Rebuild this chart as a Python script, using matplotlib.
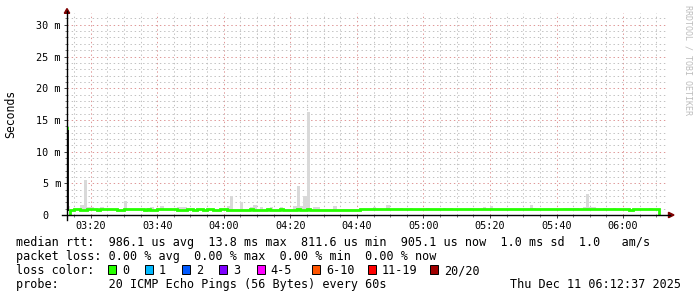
import numpy as np
import matplotlib
matplotlib.use("Agg")
import matplotlib.pyplot as plt
from matplotlib.lines import Line2D
from matplotlib.patches import Polygon, Rectangle

# smoke top per minute (ms), one value per 60 s step, starting 03:12:53
smoke_top = [
    1.42, 0.95, 0.95, 0.95, 1.6, 5.5, 1.2, 1.2, 0.95, 0.95, 1.2, 0.95, 0.95, 0.95, 0.95, 0.95, 0.95, 2.2, 0.95, 0.95,
    0.95, 0.95, 0.95, 0.95, 1.1, 1.2, 0.95, 0.95, 1.4, 0.95, 0.95, 0.95, 0.95, 1.2, 1.2, 1.2, 0.95, 0.95, 0.95, 0.95,
    0.95, 0.95, 0.95, 0.95, 0.95, 0.95, 0.95, 0.95, 1.42, 3.0, 0.95, 0.95, 2.05, 0.95, 0.95, 1.2, 1.6, 0.95, 1.2, 0.95,
    0.95, 1.2, 0.95, 0.95, 1.2, 0.95, 0.95, 0.95, 1.4, 4.6, 1.4, 3.0, 16.2, 0.95, 1.2, 1.2, 0.95, 0.95, 0.95, 0.95,
    1.4, 0.95, 0.95, 0.95, 0.95, 0.95, 0.95, 0.95, 0.95, 0.95, 0.95, 0.95, 1.2, 0.95, 0.95, 0.95, 1.58, 0.95, 0.95, 0.95,
    1.1, 0.95, 0.95, 1.1, 0.95, 0.95, 0.95, 0.95, 1.1, 0.95, 0.95, 0.95, 0.95, 1.1, 0.95, 1.1, 0.95, 0.95, 0.95, 0.95,
    0.95, 1.1, 0.95, 0.95, 0.95, 1.25, 0.95, 1.4, 0.95, 0.95, 0.95, 0.95, 0.95, 0.95, 0.95, 0.95, 0.95, 0.95, 0.95, 1.58,
    1.1, 0.95, 0.95, 0.95, 0.95, 0.95, 0.95, 0.95, 0.95, 1.1, 1.1, 1.1, 1.1, 1.1, 0.95, 1.2, 3.3, 1.2, 1.2, 0.95,
    0.95, 1.1, 0.95, 0.95, 1.1, 0.95, 0.95, 0.95, 0.95, 0.95, 0.95, 0.95, 0.95, 0.95, 0.95, 1.1, 0.95, 0.95,
]
smoke_bottom = 0.75

# median rtt per minute (ms)
median = [
    13.8, 0.86, 0.92, 0.92, 0.86, 0.86, 0.92, 0.92, 0.92, 0.84, 0.90, 0.90, 0.90, 0.90, 0.90, 0.86, 0.86, 0.90, 0.90, 0.90,
    0.90, 0.90, 0.90, 0.86, 0.92, 0.86, 0.86, 0.90, 0.90, 0.90, 0.90, 0.90, 0.90, 0.86, 0.86, 0.86, 0.90, 0.90, 0.86, 0.90,
    0.90, 0.86, 0.90, 0.90, 0.86, 0.86, 0.90, 0.90, 0.86, 0.86, 0.86, 0.86, 0.86, 0.86, 0.86, 0.92, 0.86, 0.86, 0.86, 0.86,
    0.92, 0.86, 0.86, 0.86, 0.92, 0.86, 0.86, 0.86, 0.86, 0.92, 0.86, 0.86, 0.92, 0.86, 0.86, 0.86, 0.86, 0.86, 0.86, 0.86,
    0.86, 0.86, 0.86, 0.86, 0.86, 0.86, 0.86, 0.86, 0.95, 0.95, 0.90, 0.90, 0.90, 0.90, 0.90, 0.95, 0.95, 0.95, 0.95, 0.95,
    0.90, 0.88, 0.88, 0.88, 0.88, 0.88, 0.88, 0.88, 0.88, 0.88, 0.88, 0.88, 0.88, 0.88, 0.88, 0.88, 0.88, 0.88, 0.88, 0.88,
    0.88, 0.88, 0.88, 0.88, 0.88, 0.95, 0.88, 0.88, 0.88, 0.88, 0.88, 0.88, 0.88, 0.88, 0.88, 0.88, 0.88, 0.88, 0.88, 0.88,
    0.88, 0.88, 0.88, 0.88, 0.88, 0.88, 0.88, 0.88, 0.88, 0.88, 0.88, 0.88, 0.88, 0.88, 0.88, 0.88, 0.88, 0.88, 0.88, 0.88,
    0.88, 0.95, 0.88, 0.88, 0.88, 0.88, 0.88, 0.88, 0.88, 0.82, 0.88, 0.88, 0.88, 0.88, 0.88, 0.88, 0.88, 0.88,
]

t_start = 12.89          # minutes after 03:00
t_end = 193.2
x_ticks = [20, 40, 60, 80, 100, 120, 140, 160, 180]
x_labels = ["03:20", "03:40", "04:00", "04:20", "04:40", "05:00", "05:20", "05:40", "06:00"]
y_ticks = [0, 5, 10, 15, 20, 25, 30]
y_labels = ["0  ", "5 m", "10 m", "15 m", "20 m", "25 m", "30 m"]

loss_labels = ["0", "1", "2", "3", "4-5", "6-10", "11-19", "20/20"]
loss_colors = ["#26ff00", "#00b8ff", "#0059ff", "#7e00ff", "#ff00ff", "#ff5500", "#ff0000", "#a00000"]

legend_rtt = "median rtt:  986.1 us avg  13.8 ms max  811.6 us min  905.1 us now  1.0 ms sd  1.0   am/s"
legend_loss = "packet loss: 0.00 % avg  0.00 % max  0.00 % min  0.00 % now"
legend_probe = "probe:       20 ICMP Echo Pings (56 Bytes) every 60s"
stamp = "Thu Dec 11 06:12:37 2025"

W, H = 697, 297
MONO = "DejaVu Sans Mono"

fig = plt.figure(figsize=(W / 100, H / 100), dpi=100)
fig.patch.set_facecolor("white")


def px(x, y):
    return x / W, 1 - y / H


ax = fig.add_axes([67 / W, (H - 215) / H, 600 / W, 201.6 / H])
ax.set_xlim(t_start, t_end)
ax.set_ylim(0, 31.8)

n = len(smoke_top)
xs = t_start + np.arange(n)
heights = [v - smoke_bottom for v in smoke_top]
ax.bar(xs, heights, width=1.0, bottom=smoke_bottom, align="edge", color="#d9d9d9", linewidth=0, zorder=2)

# median line
ax.stairs(median[1:], t_start + np.arange(1, n + 1), color=loss_colors[0], linewidth=2.0, zorder=3)
x0 = t_start + 0.3
ax.plot([x0, x0], [0.7, 13.4], color="black", linewidth=1.3, zorder=4, solid_capstyle="butt")
ax.plot([x0, x0], [13.4, 13.95], color=loss_colors[0], linewidth=1.3, zorder=4, solid_capstyle="butt")

# grid
ax.set_axisbelow(True)
ax.set_xticks(x_ticks)
ax.set_xticks(np.arange(15, 195, 5), minor=True)
ax.set_yticks(y_ticks)
ax.set_yticks(np.arange(0, 32, 1), minor=True)
ax.grid(which="minor", color="#c2c2c2", linestyle=(0, (1.4, 2.8)), linewidth=0.72)
ax.grid(which="major", color="#df9898", linestyle=(0, (1.4, 2.8)), linewidth=0.72)

ax.set_xticklabels(x_labels, fontfamily=MONO, fontsize=7.3)
ax.set_yticklabels(y_labels, fontfamily=MONO, fontsize=7.3)
ax.tick_params(which="major", length=2.2, width=0.7, color="#404040", pad=2.2)
ax.tick_params(which="minor", length=1.4, width=0.6, color="#606060")
for s in ax.spines.values():
    s.set_visible(False)
ax.set_facecolor("white")

# axes lines and arrows
fig.add_artist(Line2D([px(62, 0)[0], px(670, 0)[0]], [px(0, 215)[1]] * 2, color="black", linewidth=1.0))
fig.add_artist(Line2D([px(67, 0)[0]] * 2, [px(0, 220)[1], px(0, 11)[1]], color="black", linewidth=1.0))
fig.add_artist(Polygon([px(64.3, 13.3), px(69.7, 13.3), px(67, 8.5)], closed=True,
                       transform=fig.transFigure, color="#7f0000"))
fig.add_artist(Polygon([px(668.5, 212.3), px(668.5, 217.7), px(674, 215)], closed=True,
                       transform=fig.transFigure, color="#7f0000"))

# labels
fig.text(*px(11, 113.5), "Seconds", rotation=90, ha="center", va="center",
         fontfamily=MONO, fontsize=8.3)
fig.text(*px(688, 60), "RRDTOOL / TOBI OETIKER", rotation=270, ha="center", va="center",
         fontfamily=MONO, fontsize=6, color="#bdbdbd")

# legend
fig.text(*px(15.5, 246), legend_rtt, ha="left", va="baseline", fontfamily=MONO, fontsize=8.5)
fig.text(*px(15.5, 260), legend_loss, ha="left", va="baseline", fontfamily=MONO, fontsize=8.5)
fig.text(*px(15.5, 274), "loss color:", ha="left", va="baseline", fontfamily=MONO, fontsize=8.5)
box_x = [108.3, 145, 181.7, 219, 256.7, 312, 367.7, 430]
for bx, lab, col in zip(box_x, loss_labels, loss_colors):
    x_a, y_a = px(bx, 274)
    fig.add_artist(Rectangle((x_a, y_a), 8 / W, 9.3 / H, transform=fig.transFigure,
                             facecolor=col, edgecolor="black", linewidth=0.7))
    fig.text(*px(bx + 14, 274), lab, ha="left", va="baseline", fontfamily=MONO, fontsize=8.5)
fig.text(*px(15.5, 288), legend_probe, ha="left", va="baseline", fontfamily=MONO, fontsize=8.5)
fig.text(*px(681, 288), stamp, ha="right", va="baseline", fontfamily=MONO, fontsize=8.5)

fig.savefig("out.png", dpi=100, facecolor="white")
